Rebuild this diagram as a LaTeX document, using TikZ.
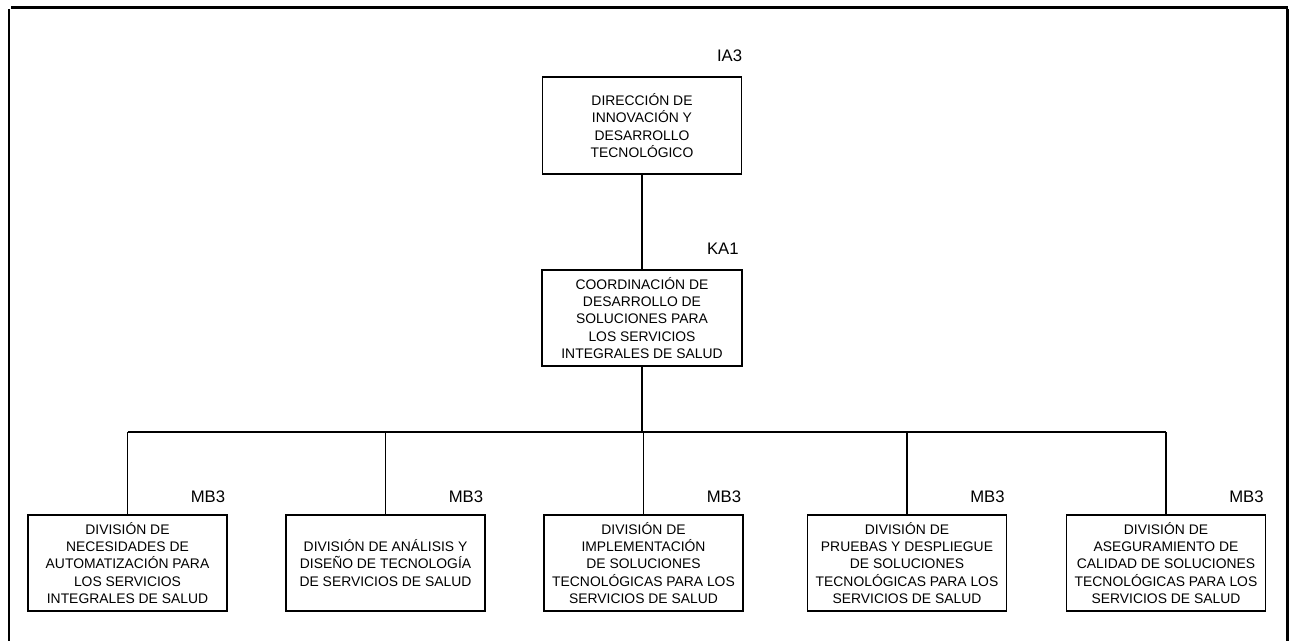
\documentclass[tikz,border=0pt]{standalone}
\usepackage{fontspec}
\setmainfont{Liberation Sans}
\usetikzlibrary{positioning}

\begin{document}
\begin{tikzpicture}[
    unitbox/.style={draw, line width=1.1pt, minimum width=3.98cm, minimum height=1.92cm,
        align=center, inner sep=1pt, font=\fontsize{7.9}{9.8}\selectfont},
    level/.style={inner sep=0pt, font=\fontsize{9.5}{11}\selectfont},
    link/.style={line width=1.1pt}
]
    \useasboundingbox (0,0) rectangle (25.78,-12.82);

    % Frame
    \draw[line width=1.7pt] (0.22,-0.15) -- (25.76,-0.15);
    \draw[line width=1.7pt] (0.18,-0.18) -- (0.18,-12.82);
    \draw[line width=1.7pt] (25.74,-0.18) -- (25.74,-12.82);

    % Units
    \node[unitbox, minimum height=1.94cm] (dir) at (12.84,-2.51)
        {DIRECCIÓN DE\\INNOVACIÓN Y\\DESARROLLO\\TECNOLÓGICO};
    \node[unitbox, minimum width=4.0cm] (coord) at (12.84,-6.36)
        {COORDINACIÓN DE\\DESARROLLO DE\\SOLUCIONES PARA\\LOS SERVICIOS\\INTEGRALES DE SALUD};

    \node[unitbox] (d1) at (2.55,-11.26)
        {DIVISIÓN DE\\NECESIDADES DE\\AUTOMATIZACIÓN PARA\\LOS SERVICIOS\\INTEGRALES DE SALUD};
    \node[unitbox] (d2) at (7.71,-11.26)
        {DIVISIÓN DE ANÁLISIS Y\\DISEÑO DE TECNOLOGÍA\\DE SERVICIOS DE SALUD};
    \node[unitbox] (d3) at (12.87,-11.26)
        {DIVISIÓN DE\\IMPLEMENTACIÓN\\DE SOLUCIONES\\TECNOLÓGICAS PARA LOS\\SERVICIOS DE SALUD};
    \node[unitbox] (d4) at (18.14,-11.26)
        {DIVISIÓN DE\\PRUEBAS Y DESPLIEGUE\\DE SOLUCIONES\\TECNOLÓGICAS PARA LOS\\SERVICIOS DE SALUD};
    \node[unitbox] (d5) at (23.32,-11.26)
        {DIVISIÓN DE\\ASEGURAMIENTO DE\\CALIDAD DE SOLUCIONES\\TECNOLÓGICAS PARA LOS\\SERVICIOS DE SALUD};

    % Levels
    \node[level, above left=0.28cm and 0cm of dir.north east] (ldir) {IA3};
    \node[level, above left=0.28cm and 0.08cm of coord.north east] (lcoord) {KA1};
    \foreach \i in {1,...,5}
        \node[level, above left=0.22cm and 0.05cm of d\i.north east] (ld\i) {MB3};

    % Lines
    \coordinate (bus) at (12.84,-8.64);
    \draw[link] (dir) -- (coord);
    \draw[link] (coord) -- (bus);
    \draw[link] (d1.north |- bus) -- (d5.north |- bus);
    \foreach \i in {1,...,5}
        \draw[link] (d\i.north |- bus) -- (d\i);
\end{tikzpicture}
\end{document}
